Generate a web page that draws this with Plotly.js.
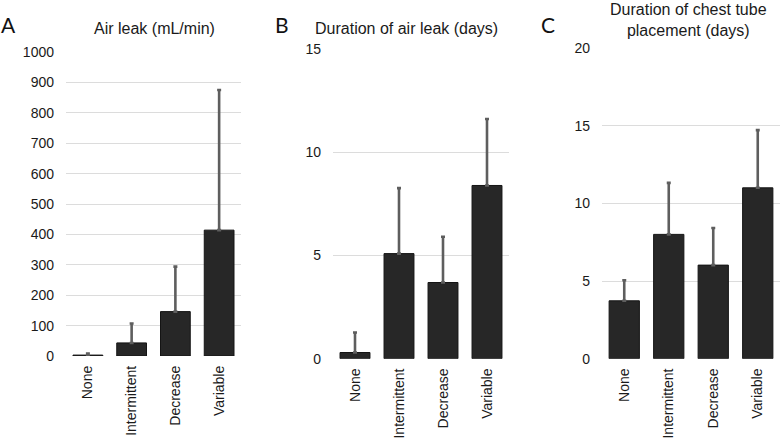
<!DOCTYPE html>
<html>
<head>
<meta charset="utf-8">
<script src="https://cdn.plot.ly/plotly-3.0.1.min.js"></script>
<style>html,body{margin:0;padding:0;background:#fff;}#chart{width:780px;height:444px;}</style>
</head>
<body>
<div id="chart"></div>
<script>
const categories = ["None", "Intermittent", "Decrease", "Variable"];

const airLeakMean = [3, 43, 146, 414];
const airLeakSD = [5, 64, 148, 461];

const leakDaysMean = [0.3, 5.09, 3.69, 8.39];
const leakDaysSD = [0.97, 3.17, 2.22, 3.22];

const tubeDaysMean = [3.73, 8.01, 6.03, 11.01];
const tubeDaysSD = [1.32, 3.32, 2.39, 3.72];

const panelTitles = ["Air leak (mL/min)", "Duration of air leak (days)", "Duration of chest tube<br>placement (days)"];
const panelLetters = ["A", "B", "C"];

const FONT = "Liberation Sans, Arial, Helvetica, sans-serif";
const barColor = "#272727";
const errColor = "#5e5e5e";

function barTrace(means, sds, xa, ya) {
  return {
    type: "bar", x: categories, y: means, xaxis: xa, yaxis: ya,
    marker: {color: barColor, line: {color: "#141414", width: 1}},
    error_y: {type: "data", symmetric: false, array: sds, arrayminus: sds.map(() => 0),
              color: errColor, thickness: 2.6, width: 2},
    showlegend: false, hoverinfo: "none"
  };
}

const data = [
  barTrace(airLeakMean, airLeakSD, "x", "y"),
  barTrace(leakDaysMean, leakDaysSD, "x2", "y2"),
  barTrace(tubeDaysMean, tubeDaysSD, "x3", "y3")
];

function xax(domain, anchor) {
  return {domain: domain, anchor: anchor, type: "category", range: [-0.5, 3.5],
          tickangle: -90, tickfont: {family: FONT, size: 14, color: "#1a1a1a"},
          showgrid: false, zeroline: false, showline: false, ticks: "", ticklabelstandoff: 6, fixedrange: true};
}
function yax(domain, anchor, range, dtick) {
  return {domain: domain, anchor: anchor, range: range, dtick: dtick,
          tickfont: {family: FONT, size: 14, color: "#1a1a1a"},
          showgrid: true, gridcolor: "#dcdcdc", gridwidth: 1, zeroline: false, showline: false,
          ticks: "", ticklabelstandoff: 11, fixedrange: true};
}

const W = 780, H = 444;
const layout = {
  width: W, height: H, margin: {l: 0, r: 0, t: 0, b: 0},
  paper_bgcolor: "#fff", plot_bgcolor: "#fff",
  bargap: 0.32,
  font: {family: FONT, color: "#1a1a1a"},
  xaxis: xax([66 / W, 241 / W], "y"),
  yaxis: yax([(H - 356) / H, (H - 52) / H], "x", [0, 1000], 100),
  xaxis2: xax([333 / W, 509 / W], "y2"),
  yaxis2: yax([(H - 358.7) / H, (H - 49) / H], "x2", [0, 15], 5),
  xaxis3: xax([602 / W, 1], "y3"),
  yaxis3: yax([(H - 358.7) / H, (H - 48.3) / H], "x3", [0, 20], 5),
  annotations: [
    {text: panelTitles[0], x: 154 / W, y: 1 - 28 / H, xref: "paper", yref: "paper", showarrow: false,
     xanchor: "center", yanchor: "middle", font: {family: FONT, size: 16, color: "#1a1a1a"}},
    {text: panelTitles[1], x: 406 / W, y: 1 - 28 / H, xref: "paper", yref: "paper", showarrow: false,
     xanchor: "center", yanchor: "middle", font: {family: FONT, size: 16, color: "#1a1a1a"}},
    {text: panelTitles[2], x: 688 / W, y: 1 - 19.5 / H, xref: "paper", yref: "paper", showarrow: false,
     xanchor: "center", yanchor: "middle", font: {family: FONT, size: 16, color: "#1a1a1a"}},
    {text: panelLetters[0], x: 8.5 / W, y: 1 - 24.5 / H, xref: "paper", yref: "paper", showarrow: false,
     xanchor: "center", yanchor: "middle", font: {family: "Lato, DejaVu Sans, sans-serif", size: 21, color: "#111"}},
    {text: panelLetters[1], x: 281.5 / W, y: 1 - 25 / H, xref: "paper", yref: "paper", showarrow: false,
     xanchor: "center", yanchor: "middle", font: {family: "Lato, DejaVu Sans, sans-serif", size: 21, color: "#111"}},
    {text: panelLetters[2], x: 548 / W, y: 1 - 25 / H, xref: "paper", yref: "paper", showarrow: false,
     xanchor: "center", yanchor: "middle", font: {family: "Lato, DejaVu Sans, sans-serif", size: 21, color: "#111"}}
  ]
};

Plotly.newPlot("chart", data, layout, {displayModeBar: false, staticPlot: true});
</script>
</body>
</html>
